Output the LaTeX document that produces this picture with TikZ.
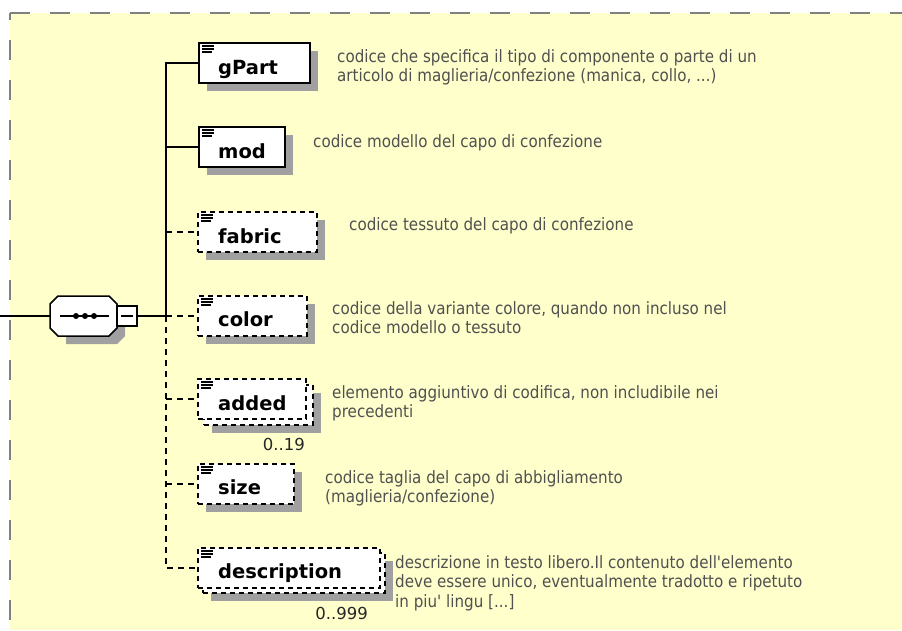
\documentclass[tikz,border=0pt]{standalone}
\usepackage{fontspec}
\setmainfont{DejaVu Sans}
\newfontfamily\descfont[FakeStretch=0.89]{DejaVu Sans}
\usetikzlibrary{shadows}
\definecolor{bgyellow}{RGB}{255,255,204}
\definecolor{shgray}{RGB}{160,160,160}
\definecolor{txtgray}{RGB}{80,80,80}
\definecolor{framegray}{RGB}{128,128,128}
\tikzset{
  elem/.style={draw=black, fill=white, line width=1.5pt, rectangle, anchor=north west,
    inner sep=0pt, outer sep=0pt, minimum height=40pt},
  elemshadow/.style={drop shadow={shadow xshift=8pt, shadow yshift=-8pt, fill=shgray, opacity=1}},
  optbox/.style={dash pattern=on 5pt off 4pt},
  lbl/.style={anchor=base west, inner sep=0pt, font=\bfseries\fontsize{19.5pt}{21pt}\selectfont},
  desc/.style={anchor=north west, inner sep=0pt, align=left, text=txtgray,
    font=\descfont\fontsize{17pt}{19.5pt}\selectfont},
  occ/.style={anchor=base east, inner sep=0pt, text=black!85, font=\fontsize{16.5pt}{18pt}\selectfont},
  conn/.style={line width=1.5pt},
  optconn/.style={line width=1.5pt, dash pattern=on 6pt off 5pt},
  icon/.pic={\draw[solid, line width=1.3pt] (0,0) -- (12,0) (0,3) -- (12,3) (0,6) -- (10,6);},
}
\begin{document}
\begin{tikzpicture}[x=1pt, y=-1pt]
\useasboundingbox (0,0) rectangle (902,630);
% background panel
\fill[bgyellow] (10,13) rectangle (902,630);
\draw[framegray, line width=2pt, dash pattern=on 20pt off 20pt] (10,13) -- (902,13);
\draw[framegray, line width=2pt, dash pattern=on 20pt off 20pt, dash phase=13pt] (10,13) -- (10,630);

% sequence compositor
\node[inner sep=0pt, outer sep=0pt, minimum width=67pt, minimum height=40pt, anchor=north west] (seq) at (50,296) {};
\fill[shgray] ([shift={(16pt,-8pt)}]seq.north west) -- ([shift={(0pt,-8pt)}]seq.north east)
  -- ([shift={(8pt,-16pt)}]seq.north east) -- ([shift={(8pt,0pt)}]seq.south east)
  -- ([shift={(0pt,-8pt)}]seq.south east) -- ([shift={(16pt,-8pt)}]seq.south west) -- cycle;
\draw[line width=1.5pt, fill=white] ([xshift=8pt]seq.north west) -- ([xshift=-8pt]seq.north east)
  -- ([yshift=-8pt]seq.north east) -- ([yshift=8pt]seq.south east)
  -- ([xshift=-8pt]seq.south east) -- ([xshift=8pt]seq.south west)
  -- ([yshift=8pt]seq.south west) -- ([yshift=-8pt]seq.north west) -- cycle;
\draw[line width=1.5pt] ([xshift=10pt]seq.west) -- ([xshift=-8pt]seq.east);
\foreach \dx in {26,35,44} \fill ([xshift=\dx pt]seq.west) circle (3pt);
\node[draw, line width=1.5pt, fill=white, inner sep=0pt, outer sep=0pt, minimum width=20pt, minimum height=20pt, anchor=north west] (minus) at (117,306) {};
\draw[line width=1.5pt] ([xshift=4pt]minus.west) -- ([xshift=-4pt]minus.east);

% element boxes
\node[elem, elemshadow, minimum width=111pt] (gpart) at (199,43) {};
\node[elem, elemshadow, minimum width=86pt] (mod) at (199,127) {};
\node[elem, elemshadow, optbox, minimum width=119pt] (fabric) at (198,212) {};
\node[elem, elemshadow, optbox, minimum width=109pt] (color) at (198,296) {};
\node[elem, elemshadow, optbox, minimum width=109pt] (addedback) at (204,385) {};
\node[elem, optbox, minimum width=108pt] (added) at (198,379) {};
\node[elem, elemshadow, optbox, minimum width=96pt] (size) at (198,464) {};
\node[elem, elemshadow, optbox, minimum width=182pt] (descrback) at (203,553) {};
\node[elem, optbox, minimum width=182pt] (descr) at (198,548) {};

\foreach \b in {gpart,mod,fabric,color,added,size,descr}
  \pic at ([shift={(3pt,-3pt)}]\b.north west) {icon};

\node[lbl] (gpartlbl) at (218,74) {gPart};
\node[lbl] (modlbl) at (218,158) {mod};
\node[lbl] (fabriclbl) at (218,243) {fabric};
\node[lbl] (colorlbl) at (218,326) {color};
\node[lbl] (addedlbl) at (218,410) {added};
\node[lbl] (sizelbl) at (218,494) {size};
\node[lbl] (descrlbl) at (218,578) {description};

\node[occ] (addedocc) at (305,450) {0..19};
\node[occ] (descrocc) at (368,619) {0..999};

% connectors
\coordinate (start) at (0,316);
\coordinate (jn) at (166,316);
\draw[conn] (start) -- (seq.west);
\draw[conn] (minus.east) -- (jn);
\draw[conn] (gpart.west) -| (jn);
\draw[conn] (mod.west) -- (mod.west -| jn);
\draw[optconn] (fabric.west -| jn) -- (fabric.west);
\draw[optconn] (jn) -- (color.west);
\draw[optconn] (jn) |- (descr.west);
\draw[optconn] (added.west -| jn) -- (added.west);
\draw[optconn] (size.west -| jn) -- (size.west);

% descriptions
\node[desc] (gpartdesc) at (337,49) {codice che specifica il tipo di componente o parte di un\\articolo di maglieria/confezione (manica, collo, ...)};
\node[desc] (moddesc) at (313,134) {codice modello del capo di confezione};
\node[desc] (fabricdesc) at (349,217) {codice tessuto del capo di confezione};
\node[desc] (colordesc) at (332,301) {codice della variante colore, quando non incluso nel\\codice modello o tessuto};
\node[desc] (addeddesc) at (332,385) {elemento aggiuntivo di codifica, non includibile nei\\precedenti};
\node[desc] (sizedesc) at (325,470) {codice taglia del capo di abbigliamento\\(maglieria/confezione)};
\node[desc] (descrdesc) at (395,555) {descrizione in testo libero.Il contenuto dell'elemento\\deve essere unico, eventualmente tradotto e ripetuto\\in piu' lingu [...]};
\end{tikzpicture}
\end{document}
